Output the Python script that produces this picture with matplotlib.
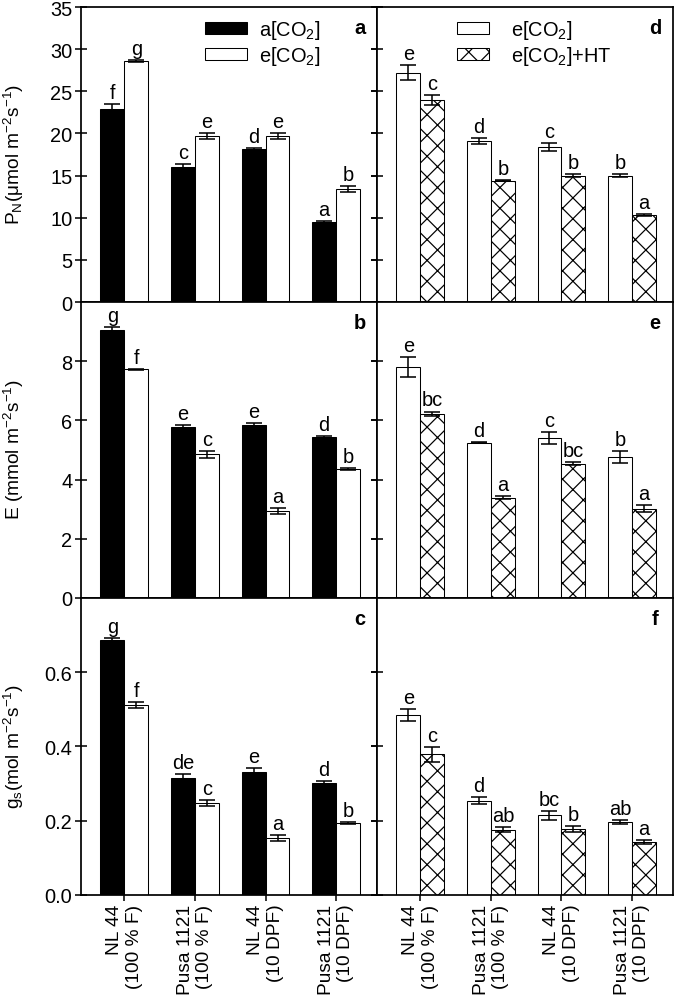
import matplotlib
matplotlib.use("Agg")
import matplotlib.pyplot as plt
import numpy as np

plt.rcParams['font.family'] = ['Liberation Sans', 'DejaVu Sans']
plt.rcParams['mathtext.fontset'] = 'custom'
plt.rcParams['mathtext.rm'] = 'Liberation Sans'
plt.rcParams['mathtext.it'] = 'Liberation Sans:italic'
plt.rcParams['mathtext.bf'] = 'Liberation Sans:bold'
plt.rcParams['hatch.linewidth'] = 0.7

groups = ["NL 44\n(100 % F)", "Pusa 1121\n(100 % F)", "NL 44\n(10 DPF)", "Pusa 1121\n(10 DPF)"]

# panel a / d : net photosynthesis
pn_amb = [22.9, 16.0, 18.1, 9.5]
pn_amb_err = [0.6, 0.4, 0.2, 0.1]
pn_amb_lab = ["f", "c", "d", "a"]
pn_elev = [28.6, 19.7, 19.7, 13.4]
pn_elev_err = [0.15, 0.3, 0.3, 0.35]
pn_elev_lab = ["g", "e", "e", "b"]
pn_e2 = [27.2, 19.1, 18.4, 15.0]
pn_e2_err = [0.9, 0.4, 0.5, 0.15]
pn_e2_lab = ["e", "d", "c", "b"]
pn_ht = [24.0, 14.4, 15.0, 10.3]
pn_ht_err = [0.6, 0.1, 0.2, 0.15]
pn_ht_lab = ["c", "b", "b", "a"]

# panel b / e : transpiration
e_amb = [9.04, 5.77, 5.83, 5.43]
e_amb_err = [0.12, 0.08, 0.07, 0.04]
e_amb_lab = ["g", "e", "e", "d"]
e_elev = [7.73, 4.86, 2.93, 4.36]
e_elev_err = [0.02, 0.12, 0.1, 0.04]
e_elev_lab = ["f", "c", "a", "b"]
e_e2 = [7.80, 5.24, 5.41, 4.76]
e_e2_err = [0.34, 0.02, 0.2, 0.2]
e_e2_lab = ["e", "d", "c", "b"]
e_ht = [6.23, 3.38, 4.54, 3.02]
e_ht_err = [0.07, 0.05, 0.06, 0.12]
e_ht_lab = ["bc", "a", "bc", "a"]

# panel c / f : stomatal conductance
gs_amb = [0.688, 0.314, 0.332, 0.301]
gs_amb_err = [0.003, 0.012, 0.01, 0.006]
gs_amb_lab = ["g", "de", "e", "d"]
gs_elev = [0.511, 0.248, 0.154, 0.194]
gs_elev_err = [0.008, 0.008, 0.008, 0.003]
gs_elev_lab = ["f", "c", "a", "b"]
gs_e2 = [0.484, 0.254, 0.215, 0.197]
gs_e2_err = [0.016, 0.01, 0.012, 0.006]
gs_e2_lab = ["e", "d", "bc", "ab"]
gs_ht = [0.379, 0.176, 0.178, 0.143]
gs_ht_err = [0.02, 0.006, 0.008, 0.005]
gs_ht_lab = ["c", "ab", "b", "a"]

ylabels = [r"P$_\mathrm{N}$(μmol m$^{-2}$s$^{-1}$)",
           r"E (mmol m$^{-2}$s$^{-1}$)",
           r"g$_\mathrm{s}$(mol m$^{-2}$s$^{-1}$)"]
ylims = [(0, 35), (0, 10), (0, 0.8)]
yticks = [np.arange(0, 36, 5), np.arange(0, 9, 2), [0.0, 0.2, 0.4, 0.6]]
yfmt = ["%d", "%d", "%.1f"]

fig = plt.figure(figsize=(5.4, 8.04), dpi=125)

bottoms = [0.6985, 0.404, 0.1085]
tops = [0.992, 0.6985, 0.404]
lefts = [0.12, 0.5585]
w = 0.4385
bw = 0.34
x = np.arange(4)
fs = 11.5

rows = [
    ((pn_amb, pn_amb_err, pn_amb_lab), (pn_elev, pn_elev_err, pn_elev_lab),
     (pn_e2, pn_e2_err, pn_e2_lab), (pn_ht, pn_ht_err, pn_ht_lab)),
    ((e_amb, e_amb_err, e_amb_lab), (e_elev, e_elev_err, e_elev_lab),
     (e_e2, e_e2_err, e_e2_lab), (e_ht, e_ht_err, e_ht_lab)),
    ((gs_amb, gs_amb_err, gs_amb_lab), (gs_elev, gs_elev_err, gs_elev_lab),
     (gs_e2, gs_e2_err, gs_e2_lab), (gs_ht, gs_ht_err, gs_ht_lab)),
]
panel_names = [("a", "d"), ("b", "e"), ("c", "f")]


def draw_pair(ax, s1, s2, style1, style2):
    bars = []
    for off, (vals, errs, labs), st in [(-bw / 2, s1, style1), (bw / 2, s2, style2)]:
        b = ax.bar(x + off, vals, bw, color=st["fc"], edgecolor="black",
                   linewidth=0.6, hatch=st.get("hatch"), label=st["label"], zorder=2)
        ax.errorbar(x + off, vals, yerr=errs, fmt="none", ecolor="black",
                    elinewidth=0.9, capsize=4.5, capthick=0.9, zorder=3)
        for xi, v, e, l in zip(x + off, vals, errs, labs):
            ax.annotate(l, (xi, v + e), xytext=(0, 1.2), textcoords="offset points",
                        ha="center", va="bottom", fontsize=fs)
        bars.append(b)
    return bars


for r in range(3):
    h = tops[r] - bottoms[r]
    axl = fig.add_axes([lefts[0], bottoms[r], w, h])
    axr = fig.add_axes([lefts[1], bottoms[r], w, h])
    s_amb, s_elev, s_e2, s_ht = rows[r]
    draw_pair(axl, s_amb, s_elev,
              {"fc": "black", "label": r"a[CO$_2$]"},
              {"fc": "white", "label": r"e[CO$_2$]"})
    draw_pair(axr, s_e2, s_ht,
              {"fc": "white", "label": r"e[CO$_2$]"},
              {"fc": "white", "hatch": "xx", "label": r"e[CO$_2$]+HT"})
    for ax in (axl, axr):
        ax.set_xlim(-0.615, 3.58)
        ax.set_ylim(*ylims[r])
        ax.set_yticks(yticks[r])
        ax.set_xticks(x)
        for sp in ax.spines.values():
            sp.set_linewidth(1.0)
        ax.tick_params(axis="both", direction="inout", length=7, width=0.9,
                       labelsize=fs, pad=1.5)
    axl.yaxis.set_major_formatter(plt.FormatStrFormatter(yfmt[r]))
    axl.tick_params(axis="y", right=True)
    axr.tick_params(axis="y", labelleft=False)
    axl.set_ylabel(ylabels[r], fontsize=11)
    axl.yaxis.set_label_coords(-0.186, 0.505)
    if r < 2:
        axl.tick_params(axis="x", labelbottom=False)
        axr.tick_params(axis="x", labelbottom=False)
    else:
        for ax in (axl, axr):
            ax.set_xticklabels(groups, rotation=90, ha="center", va="top",
                               ma="right", fontsize=11)
    axl.text(0.943, 0.93, panel_names[r][0], transform=axl.transAxes,
             ha="center", va="center", fontsize=fs, fontweight="bold")
    axr.text(0.94, 0.93, panel_names[r][1], transform=axr.transAxes,
             ha="center", va="center", fontsize=fs, fontweight="bold")
    if r == 0:
        axl.legend(loc="upper left", bbox_to_anchor=(0.42, 0.963), frameon=False,
                   fontsize=fs, handlelength=2.1, handleheight=0.6,
                   handletextpad=0.6, labelspacing=0.15, borderpad=0, borderaxespad=0)
        axr.legend(loc="upper left", bbox_to_anchor=(0.27, 0.963), frameon=False,
                   fontsize=fs, handlelength=1.6, handleheight=0.6,
                   handletextpad=1.1, labelspacing=0.15, borderpad=0, borderaxespad=0)

fig.savefig("out.png", dpi=125)
